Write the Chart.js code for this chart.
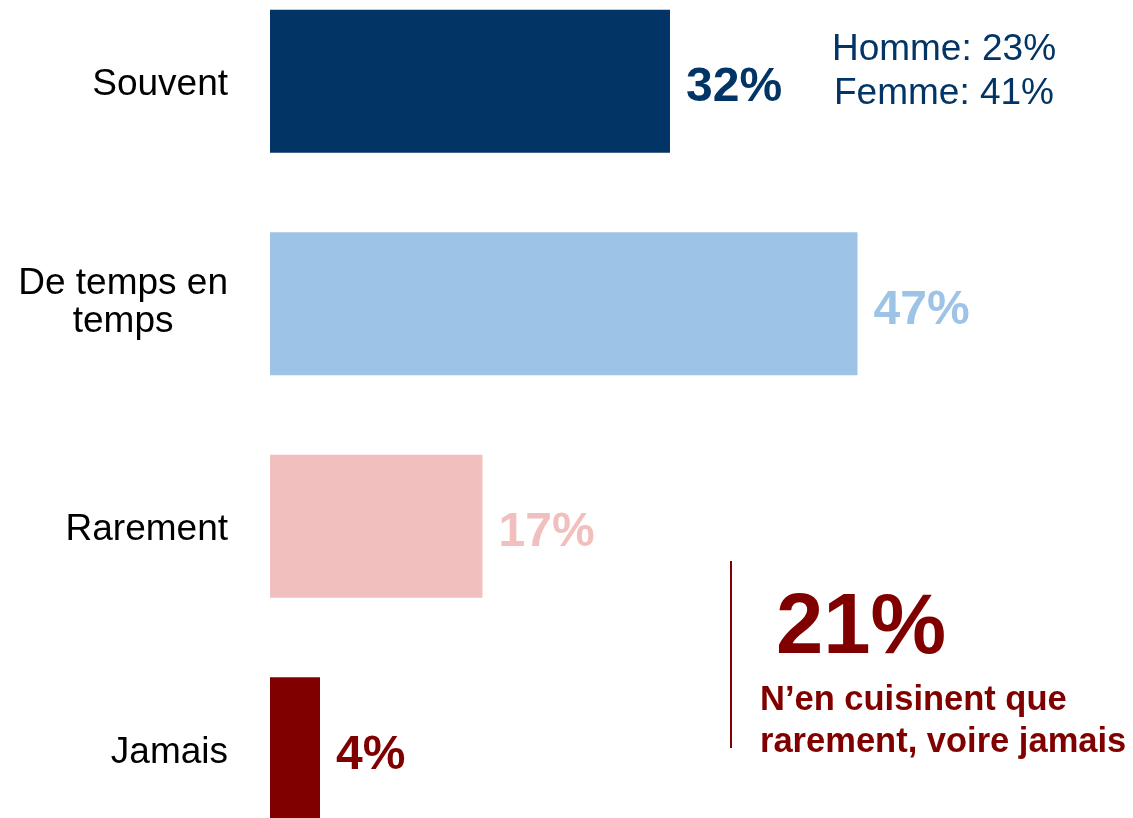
<!DOCTYPE html>
<html>
<head>
<meta charset="utf-8">
<script src="https://cdn.jsdelivr.net/npm/chart.js@4/dist/chart.umd.min.js"></script>
<style>
  html, body { margin: 0; padding: 0; background: #ffffff; overflow: hidden; width: 1133px; height: 818px; }
  #wrap { position: absolute; left: 0; top: -30px; width: 1133px; height: 890px; }
</style>
</head>
<body>
<div id="wrap"><canvas id="c"></canvas></div>
<script>
// ---- data ----
const categories = [['Souvent'], ['De temps en', 'temps'], ['Rarement'], ['Jamais']];
const values = [32, 47, 17, 4];
const valueLabels = ['32%', '47%', '17%', '4%'];
const genderLines = ['Homme: 23%', 'Femme: 41%'];
const calloutValue = '21%';
const calloutLines = ['N\u2019en cuisinent que', 'rarement, voire jamais'];

// ---- styles ----
const barColors = ['#023466', '#9DC3E6', '#F1BFBE', '#800000'];
const OFFSET = 30; // canvas top offset relative to page
const FONT = '"Liberation Sans", Arial, Helvetica, sans-serif';

const labelsPlugin = {
  id: 'customLabels',
  afterDraw(chart) {
    const ctx = chart.ctx;
    const y = chart.scales.y;
    const x = chart.scales.x;
    ctx.save();
    // category labels
    ctx.fillStyle = '#000000';
    ctx.font = '37px ' + FONT;
    categories.forEach((lines, i) => {
      const cy = y.getPixelForValue(i);
      const right = chart.chartArea.left - 42;
      ctx.textBaseline = 'alphabetic';
      if (lines.length === 1) {
        ctx.textAlign = 'right';
        ctx.fillText(lines[0], right, cy + 14);
      } else {
        const widest = Math.max(...lines.map(l => ctx.measureText(l).width));
        const cx = right - widest / 2;
        ctx.textAlign = 'center';
        ctx.fillText(lines[0], cx, cy - 10);
        ctx.fillText(lines[1], cx, cy + 28);
      }
    });
    // value labels
    ctx.font = 'bold 48px ' + FONT;
    ctx.textAlign = 'left';
    ctx.textBaseline = 'alphabetic';
    values.forEach((v, i) => {
      ctx.fillStyle = barColors[i];
      ctx.fillText(valueLabels[i], x.getPixelForValue(v) + 16, y.getPixelForValue(i) + 20);
    });
    // gender breakdown
    ctx.font = '37px ' + FONT;
    ctx.textAlign = 'center';
    ctx.fillStyle = '#023466';
    ctx.fillText(genderLines[0], 944, 60 + OFFSET);
    ctx.fillText(genderLines[1], 944, 104 + OFFSET);
    // callout
    ctx.strokeStyle = '#800000';
    ctx.lineWidth = 2;
    ctx.beginPath();
    ctx.moveTo(731, 561 + OFFSET);
    ctx.lineTo(731, 748 + OFFSET);
    ctx.stroke();
    ctx.fillStyle = '#800000';
    ctx.textAlign = 'left';
    ctx.font = 'bold 85px ' + FONT;
    ctx.fillText(calloutValue, 776, 653 + OFFSET);
    ctx.font = 'bold 34.5px ' + FONT;
    ctx.fillText(calloutLines[0], 760, 710 + OFFSET);
    ctx.fillText(calloutLines[1], 760, 752 + OFFSET);
    ctx.restore();
  }
};

new Chart(document.getElementById('c'), {
  type: 'bar',
  data: {
    labels: categories.map(l => l.join(' ')),
    datasets: [{
      data: values,
      backgroundColor: barColors,
      borderWidth: 0,
      categoryPercentage: 1.0,
      barPercentage: 0.643
    }]
  },
  options: {
    indexAxis: 'y',
    responsive: true,
    maintainAspectRatio: false,
    animation: false,
    layout: { padding: { left: 0, right: 113, top: 0, bottom: 0 } },
    plugins: { legend: { display: false }, tooltip: { enabled: false } },
    scales: {
      x: { display: false, min: 0, max: 60 },
      y: {
        type: 'category',
        ticks: { display: false },
        grid: { display: false },
        border: { display: false },
        afterFit(scale) { scale.width = 270; }
      }
    }
  },
  plugins: [labelsPlugin]
});
</script>
</body>
</html>
